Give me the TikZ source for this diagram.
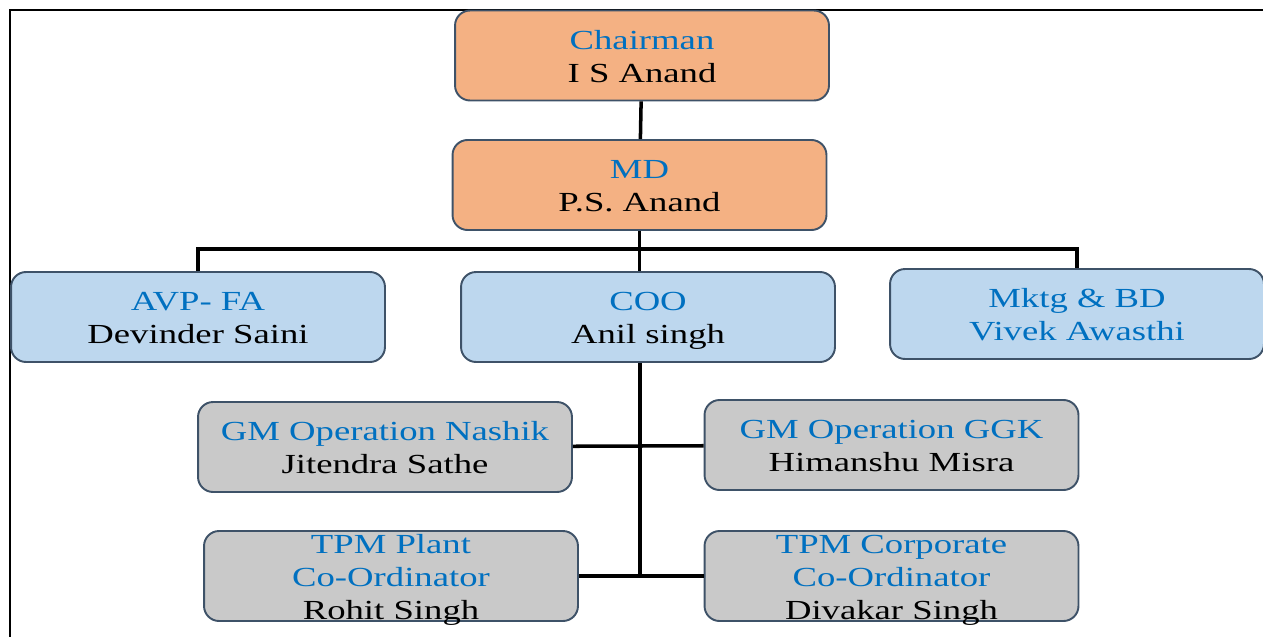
\documentclass[tikz,border=0pt]{standalone}
\usepackage{fontspec}
\setmainfont{Liberation Serif}
\usepackage{graphicx}
\definecolor{boss}{RGB}{244,177,131}
\definecolor{staff}{RGB}{189,215,238}
\definecolor{works}{RGB}{201,201,201}
\definecolor{rim}{RGB}{62,82,104}
\definecolor{roleblue}{RGB}{0,112,192}
\newcommand{\card}[1]{\smash{\raisebox{-0.36em}{\scalebox{1.33}[1]{\begin{tabular}{@{}c@{}}#1\end{tabular}}}}}
\newcommand{\role}[1]{\textcolor{roleblue}{#1}}

\begin{document}
\begin{tikzpicture}[x=0.02cm,y=-0.02cm]
\tikzstyle{box}=[rounded corners=0.3cm,draw=rim,line width=1.1pt,minimum width=7.48cm,minimum height=1.8cm,inner sep=0pt,font=\fontsize{15.7}{18.9}\selectfont]%
\tikzstyle{link}=[line width=2pt]%
\useasboundingbox (0,0) rectangle (1263,636);
% frame
\draw[line width=1.2pt] (10,640) -- (10,10) -- (1270,10);
% boxes
\node[box,fill=boss] (chair) at (642,55.5) {\card{\role{Chairman}\\I S Anand}};
\node[box,fill=boss] (md) at (639.5,185) {\card{\role{MD}\\P.S. Anand}};
\node[box,fill=staff] (avp) at (198,317) {\card{\role{AVP- FA}\\Devinder Saini}};
\node[box,fill=staff] (coo) at (648,317) {\card{\role{COO}\\Anil singh}};
\node[box,fill=staff] (mktg) at (1077,314) {\card{\role{Mktg \& BD}\\\role{Vivek Awasthi}}};
\node[box,fill=works] (nashik) at (385,447) {\card{\role{GM Operation Nashik}\\Jitendra Sathe}};
\node[box,fill=works] (ggk) at (891.5,445) {\card{\role{GM Operation GGK}\\Himanshu Misra}};
\node[box,fill=works] (plant) at (391,576) {\card{\role{TPM Plant}\\\role{Co-Ordinator}\\Rohit Singh}};
\node[box,fill=works] (corp) at (891.5,576) {\card{\role{TPM Corporate}\\\role{Co-Ordinator}\\Divakar Singh}};
% lines
\coordinate (bus) at (640,249);
\coordinate (spine) at (640,576);
\draw[link] (chair) -- (md);
\draw[link] (md.south) -- (md.south |- coo.north);
\draw[link] (avp.north) |- (bus) -| (mktg.north);
\draw[link] (coo.south -| spine) -- (spine);
\draw[link] (nashik) -- (ggk);
\draw[link] (plant) -- (corp);
\end{tikzpicture}
\end{document}
